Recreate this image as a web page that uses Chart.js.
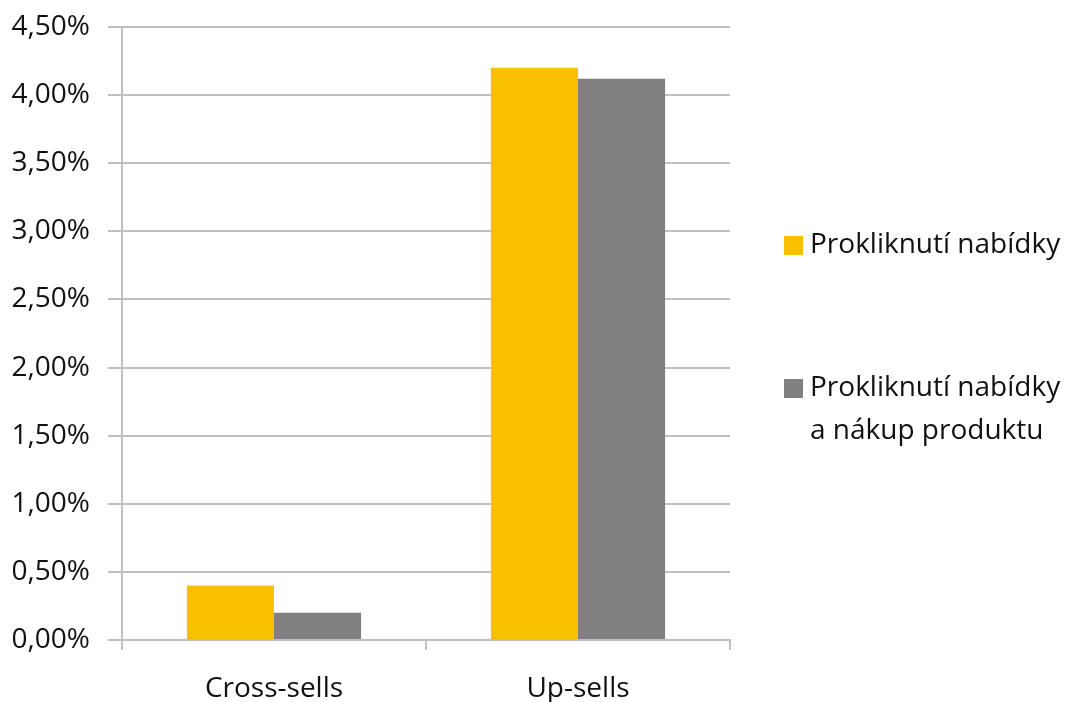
<!DOCTYPE html>
<html>
<head>
<meta charset="utf-8">
<script src="https://cdn.jsdelivr.net/npm/chart.js@4.4.0/dist/chart.umd.min.js"></script>
<style>
  html, body { margin: 0; padding: 0; background: #fff; }
  #wrap { width: 1068px; height: 702px; position: relative; }
</style>
</head>
<body>
<div id="wrap"><canvas id="chart"></canvas></div>
<script>
// data
const categories = ['Cross-sells', 'Up-sells'];
const clickValues = [0.40, 4.20];      // Prokliknutí nabídky (%)
const purchaseValues = [0.20, 4.12];   // Prokliknutí nabídky a nákup produktu (%)
const seriesNames = [
  ['Prokliknutí nabídky'],
  ['Prokliknutí nabídky', 'a nákup produktu']
];
const yTicks = [0, 0.5, 1, 1.5, 2, 2.5, 3, 3.5, 4, 4.5];

const yellow = '#F8C000';
const grey = '#808080';
const textColor = '#111111';
const FONT = "'Open Sans', sans-serif";

// legend drawn by hand, because the second label wraps
const sideLegend = {
  id: 'sideLegend',
  afterDraw(chart) {
    const ctx = chart.ctx;
    const x = chart.chartArea.right + 54;
    const rows = [245, 388];
    ctx.save();
    ctx.font = '28px ' + FONT;
    ctx.textBaseline = 'middle';
    chart.data.datasets.forEach((ds, i) => {
      const y = rows[i];
      ctx.fillStyle = ds.backgroundColor;
      ctx.fillRect(x, y - 9, 19, 19);
      ctx.fillStyle = textColor;
      seriesNames[i].forEach((line, j) => {
        ctx.fillText(line, x + 26, y + j * 43);
      });
    });
    ctx.restore();
  }
};

new Chart(document.getElementById('chart'), {
  type: 'bar',
  data: {
    labels: categories,
    datasets: [
      { label: seriesNames[0].join(' '), data: clickValues, backgroundColor: yellow },
      { label: seriesNames[1].join(' '), data: purchaseValues, backgroundColor: grey }
    ]
  },
  options: {
    responsive: true,
    maintainAspectRatio: false,
    animation: false,
    categoryPercentage: 0.573,
    barPercentage: 1,
    layout: { padding: { top: 27, right: 338, left: 0, bottom: 0 } },
    plugins: {
      legend: { display: false },
      tooltip: { enabled: false }
    },
    scales: {
      x: {
        grid: {
          offset: true,
          drawOnChartArea: false,
          drawTicks: true,
          tickLength: 10,
          color: '#c0c0c0',
          lineWidth: 2
        },
        border: { color: '#c0c0c0', width: 2 },
        ticks: {
          color: textColor,
          font: { family: FONT, size: 28 },
          padding: 22
        },
        afterFit(scale) { scale.height = 62; }
      },
      y: {
        min: 0,
        max: 4.5,
        afterBuildTicks(scale) {
          scale.ticks = yTicks.map(v => ({ value: v }));
        },
        grid: {
          color: '#c0c0c0',
          lineWidth: 2,
          tickLength: 14
        },
        border: { color: '#c0c0c0', width: 2 },
        ticks: {
          color: textColor,
          font: { family: FONT, size: 28 },
          padding: 18,
          callback: v => v.toFixed(2).replace('.', ',') + '%'
        },
        afterFit(scale) {
          scale.width = 122;
          scale.paddingTop = 0;
          scale.paddingBottom = 0;
        }
      }
    }
  },
  plugins: [sideLegend]
});
</script>
</body>
</html>
